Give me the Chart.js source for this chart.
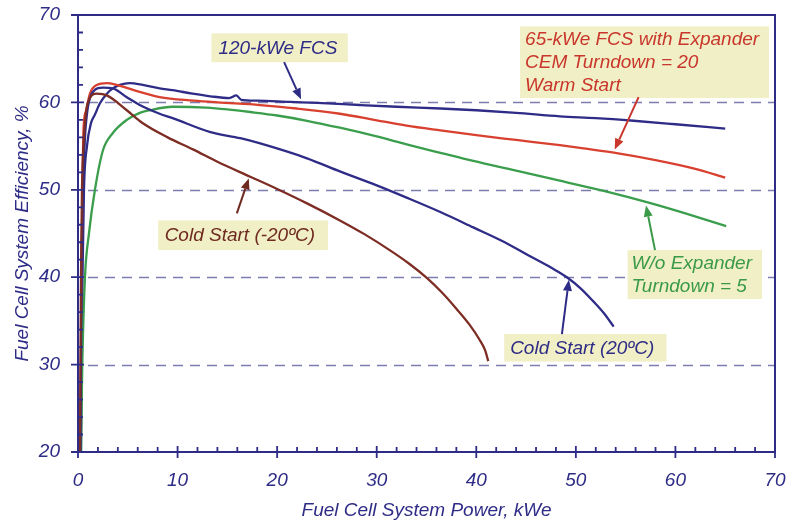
<!DOCTYPE html>
<html>
<head>
<meta charset="utf-8">
<title>Fuel Cell System Efficiency</title>
<script src="https://cdn.jsdelivr.net/npm/chart.js@4.4.1/dist/chart.umd.min.js"></script>
<style>
  html, body { margin: 0; padding: 0; background: #ffffff; }
  #wrap { width: 786px; height: 523px; position: relative; }
</style>
</head>
<body>
<div id="wrap"><canvas id="chart" width="786" height="523"></canvas></div>
<script>
// Efficiency (%) against net system power (kWe) for each operating case
const fcs120Power = [0.3, 0.45, 0.6, 0.9, 1.3, 1.7, 2.2, 2.9, 3.5, 4.2, 5.2, 6.5, 8.2, 9.5, 11.5, 13.3, 15.2, 15.9, 16.4, 18, 21.3, 24, 28.3, 32, 36.4, 40, 44, 48.4, 52, 55.8, 60, 65];
const fcs120Eff   = [20, 40, 50, 55, 57.6, 58.6, 59.9, 61.0, 61.6, 62.0, 62.2, 62.0, 61.6, 61.4, 61.0, 60.7, 60.5, 60.8, 60.3, 60.2, 60.05, 59.95, 59.7, 59.5, 59.3, 59.1, 58.8, 58.4, 58.2, 57.9, 57.5, 57.0];

const warmPower = [0.25, 0.35, 0.45, 0.55, 0.8, 1.2, 1.9, 2.9, 3.9, 5.6, 8.2, 11.6, 14, 18.3, 22, 26.3, 30, 33, 36.4, 40, 44, 48.4, 51, 54.1, 58, 62, 65];
const warmEff   = [20, 40, 50, 56.8, 59, 61.0, 62.0, 62.2, 62.0, 61.4, 60.6, 60.2, 60.0, 59.7, 59.3, 58.7, 57.95, 57.35, 56.8, 56.25, 55.7, 55.1, 54.7, 54.2, 53.4, 52.4, 51.4];

const noExpPower = [0.3, 0.43, 0.7, 1.1, 1.7, 2.5, 3.5, 4.9, 6.2, 7.2, 9.5, 12.9, 15, 17.3, 20, 23, 26.3, 30, 33, 36.5, 39.7, 44, 47.4, 52.7, 57.4, 61, 65.1];
const noExpEff   = [20, 30, 40, 45, 50, 54.5, 56.5, 58, 58.8, 59.1, 59.5, 59.4, 59.2, 58.9, 58.5, 57.9, 57.1, 56.1, 55.2, 54.2, 53.3, 52.2, 51.3, 49.9, 48.5, 47.3, 45.85];

const cold20Power = [0.25, 0.35, 0.5, 0.7, 1.0, 1.5, 2.5, 3.5, 4.9, 6.2, 8.2, 9.5, 13.3, 16.3, 18.3, 23, 26.3, 30, 33, 36.5, 39.7, 42.5, 45.4, 47.5, 49.1, 50.5, 51.7, 52.8, 53.8];
const cold20Eff   = [20, 40, 50, 56, 59.5, 61.2, 61.7, 61.6, 60.6, 59.7, 58.7, 58.2, 56.6, 55.9, 55.3, 53.6, 52.1, 50.5, 49.1, 47.4, 45.7, 44.2, 42.4, 41.1, 40.0, 38.7, 37.3, 35.9, 34.35];

const coldM20Power = [0.2, 0.3, 0.4, 0.6, 1.0, 1.9, 2.9, 4.9, 6.4, 9, 11.6, 14, 17.3, 20, 23, 26.3, 28.8, 31.3, 33.2, 35, 36.6, 38, 39.3, 40.3, 40.9, 41.2];
const coldM20Eff   = [20, 40, 50, 56, 60, 61.0, 60.8, 59.1, 57.7, 56, 54.6, 53.2, 51.5, 50.1, 48.45, 46.5, 44.9, 43.1, 41.6, 39.95, 38.2, 36.4, 34.6, 32.9, 31.6, 30.4];

// Axis ranges and tick labels
const xTicks = [0, 10, 20, 30, 40, 50, 60, 70];
const yTicks = [20, 30, 40, 50, 60, 70];
const dashedLevels = [30, 40, 50, 60];

const NAVY = '#2e2c86';
const RED = '#d8402f';
const GREEN = '#3a9e4c';
const BROWN = '#7d2d24';
const NOTE_FILL = '#f1efc6';
const FONT = 'Liberation Sans, Arial, sans-serif';

function pairs(xs, ys) { return xs.map((x, i) => ({ x: x, y: ys[i] })); }

// Callout boxes (data units) with an arrow pointing at the curve they describe
const notes = [
  { lines: ['120-kWe FCS'], color: NAVY, box: [13.4, 67.9, 27.1, 64.6], textX: 14.1,
    arrow: [[20.7, 64.6], [22.4, 60.35]] },
  { lines: ['65-kWe FCS with Expander', 'CEM Turndown = 20', 'Warm Start'], color: '#c8362c', box: [44.4, 68.7, 69.4, 60.5], textX: 44.9,
    arrow: [[56.3, 60.6], [53.9, 54.6]] },
  { lines: ['W/o Expander', 'Turndown = 5'], color: '#3a9a48', box: [55.2, 43.1, 68.7, 37.5], textX: 55.6,
    arrow: [[57.95, 43.1], [57.05, 48.2]] },
  { lines: ['Cold Start (20\u00BAC)'], color: NAVY, box: [42.8, 33.5, 59.1, 30.35], textX: 43.4,
    arrow: [[48.6, 33.5], [49.3, 39.7]] },
  { lines: ['Cold Start (-20\u00BAC)'], color: '#6e2a20', box: [8.05, 46.5, 25.1, 43.1], textX: 8.7,
    arrow: [[15.95, 47.3], [17.15, 51.3]] }
];

const framePlugin = {
  id: 'frame',
  beforeDatasetsDraw(chart) {
    const { ctx, chartArea: a, scales: { x, y } } = chart;
    ctx.save();
    ctx.strokeStyle = '#7d7db0';
    ctx.lineWidth = 1.3;
    ctx.setLineDash([10, 7]);
    dashedLevels.forEach(v => {
      const py = Math.round(y.getPixelForValue(v)) + 0.5;
      ctx.beginPath();
      ctx.moveTo(a.left + 10, py);
      ctx.lineTo(a.right, py);
      ctx.stroke();
    });
    ctx.restore();
  },
  afterDatasetsDraw(chart) {
    const { ctx, chartArea: a, scales: { x, y } } = chart;
    ctx.save();
    ctx.strokeStyle = NAVY;
    ctx.lineWidth = 2;
    ctx.strokeRect(a.left, a.top, a.right - a.left, a.bottom - a.top);
    ctx.lineWidth = 1.8;
    ctx.beginPath();
    for (let v = 0; v <= 70; v += 2) {
      const px = x.getPixelForValue(v);
      const major = v % 10 === 0;
      ctx.moveTo(px, a.bottom + (major ? 6 : 0));
      ctx.lineTo(px, a.bottom - (major ? 6 : 5));
    }
    for (let v = 20; v <= 70; v += 2) {
      const py = y.getPixelForValue(v);
      const major = v % 10 === 0;
      ctx.moveTo(a.left - (major ? 7 : 0), py);
      ctx.lineTo(a.left + (major ? 6 : 5), py);
    }
    ctx.stroke();

    // callouts
    ctx.font = 'italic 19px ' + FONT;
    ctx.textBaseline = 'alphabetic';
    notes.forEach(n => {
      const x0 = x.getPixelForValue(n.box[0]);
      const y0 = y.getPixelForValue(n.box[1]);
      const x1 = x.getPixelForValue(n.box[2]);
      const y1 = y.getPixelForValue(n.box[3]);
      ctx.fillStyle = NOTE_FILL;
      ctx.fillRect(x0, y0, x1 - x0, y1 - y0);
      ctx.fillStyle = n.color;
      const tx = x.getPixelForValue(n.textX);
      const lh = 23;
      const h = y1 - y0;
      const first = y0 + (h - lh * n.lines.length) / 2 + 17.5;
      n.lines.forEach((t, i) => ctx.fillText(t, tx, first + i * lh));

      const ax0 = x.getPixelForValue(n.arrow[0][0]);
      const ay0 = y.getPixelForValue(n.arrow[0][1]);
      const ax1 = x.getPixelForValue(n.arrow[1][0]);
      const ay1 = y.getPixelForValue(n.arrow[1][1]);
      const ang = Math.atan2(ay1 - ay0, ax1 - ax0);
      const hl = 11, hw = 4.5;
      const bx = ax1 - hl * Math.cos(ang), by = ay1 - hl * Math.sin(ang);
      ctx.strokeStyle = n.color;
      ctx.lineWidth = 2;
      ctx.beginPath();
      ctx.moveTo(ax0, ay0);
      ctx.lineTo(bx, by);
      ctx.stroke();
      ctx.beginPath();
      ctx.moveTo(ax1, ay1);
      ctx.lineTo(bx + hw * Math.sin(ang), by - hw * Math.cos(ang));
      ctx.lineTo(bx - hw * Math.sin(ang), by + hw * Math.cos(ang));
      ctx.closePath();
      ctx.fill();
    });
    ctx.restore();
  }
};

function series(label, xs, ys, color) {
  return {
    label: label,
    data: pairs(xs, ys),
    borderColor: color,
    backgroundColor: color,
    borderWidth: 2.3,
    pointRadius: 0,
    fill: false,
    cubicInterpolationMode: 'monotone'
  };
}

// Fixed axis sizes; no extra edge padding for the end labels
function fixSize(scale, key, value) {
  scale[key] = value;
  scale.paddingLeft = 0;
  scale.paddingRight = 0;
  scale.paddingTop = 0;
  scale.paddingBottom = 0;
}

new Chart(document.getElementById('chart'), {
  type: 'line',
  data: {
    datasets: [
      series('Cold Start (-20\u00BAC)', coldM20Power, coldM20Eff, BROWN),
      series('Cold Start (20\u00BAC)', cold20Power, cold20Eff, NAVY),
      series('W/o Expander, Turndown = 5', noExpPower, noExpEff, GREEN),
      series('65-kWe FCS with Expander, Warm Start', warmPower, warmEff, RED),
      series('120-kWe FCS', fcs120Power, fcs120Eff, NAVY)
    ]
  },
  options: {
    responsive: false,
    animation: false,
    devicePixelRatio: 1,
    layout: { padding: { left: 0, top: 15, right: 11, bottom: 0 } },
    plugins: { legend: { display: false }, tooltip: { enabled: false } },
    scales: {
      x: {
        type: 'linear',
        min: 0, max: 70,
        afterFit(scale) { fixSize(scale, 'height', 71); },
        afterBuildTicks(scale) { scale.ticks = xTicks.map(v => ({ value: v })); },
        grid: { display: false, drawTicks: false },
        border: { display: false },
        ticks: { color: NAVY, padding: 17, maxRotation: 0, font: { family: FONT, size: 19, style: 'italic' } },
        title: { display: true, text: 'Fuel Cell System Power, kWe', color: NAVY, padding: { top: 0, bottom: 1 },
                 font: { family: FONT, size: 19, style: 'italic' } }
      },
      y: {
        type: 'linear',
        min: 20, max: 70,
        afterFit(scale) { fixSize(scale, 'width', 78); },
        afterBuildTicks(scale) { scale.ticks = yTicks.map(v => ({ value: v })); },
        grid: { display: false, drawTicks: false },
        border: { display: false },
        ticks: { color: NAVY, padding: 18, font: { family: FONT, size: 19, style: 'italic' } },
        title: { display: true, text: 'Fuel Cell System Efficiency, %', color: NAVY, padding: { top: 11, bottom: 0 },
                 font: { family: FONT, size: 19, style: 'italic' } }
      }
    }
  },
  plugins: [framePlugin]
});
</script>
</body>
</html>
